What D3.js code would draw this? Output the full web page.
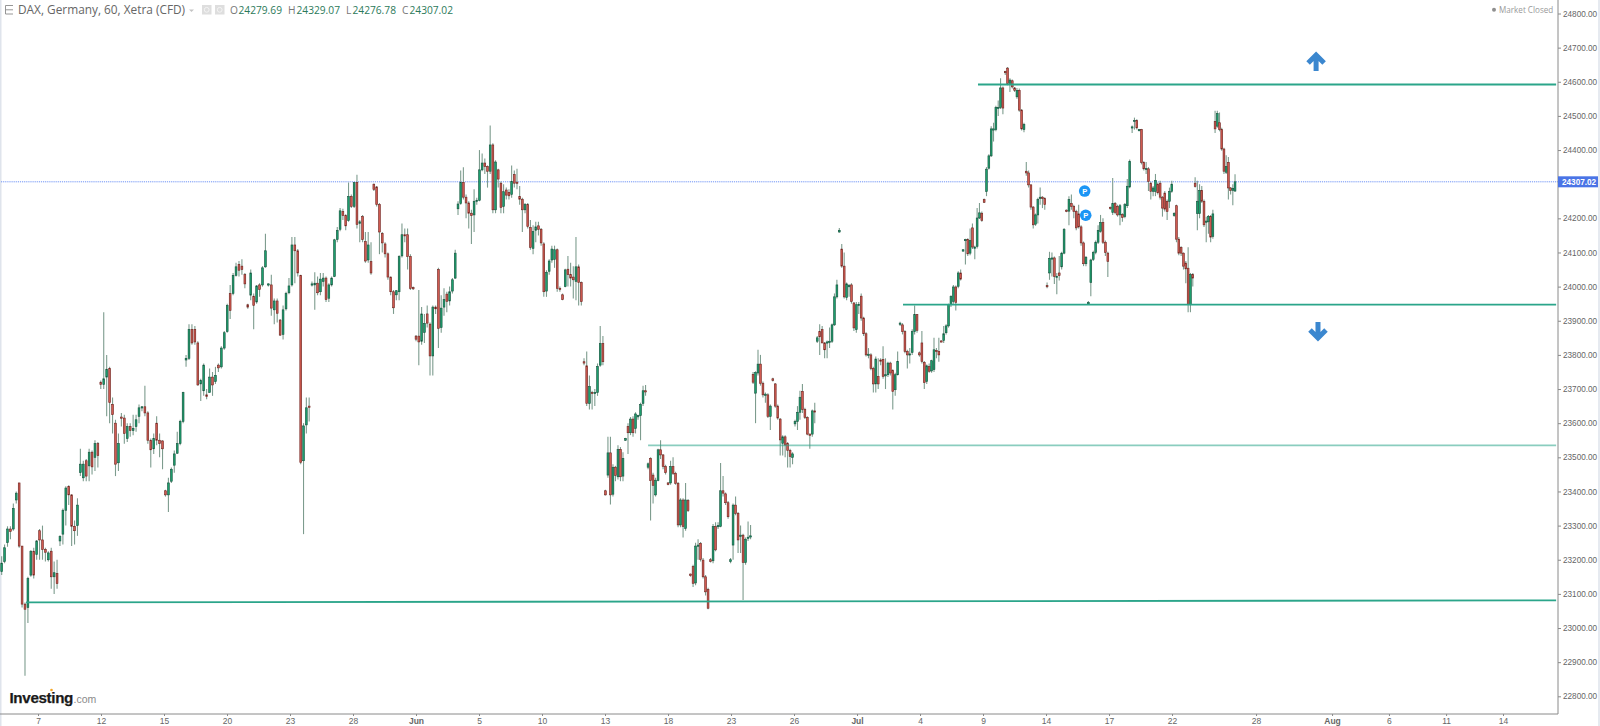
<!DOCTYPE html>
<html>
<head>
<meta charset="utf-8">
<script src="https://cdn.jsdelivr.net/npm/d3@7"></script>
<style>
  html, body { margin: 0; padding: 0; background: #fff; }
  svg { display: block; }
  .axis text { font-family: "Liberation Sans", Arial, sans-serif; fill: #666; }
  .axis path, .axis line { stroke: #8a8a8a; }
</style>
</head>
<body>
<svg id="chart" width="1600" height="726"></svg>
<script>
// hourly candles, left to right
const opens = [
  23165,23195,23250,23290,23290,23375,23425,23240,23070,23060,
  23155,23225,23215,23285,23258,23230,23200,23225,23150,23160,
  23255,23275,23345,23415,23390,23298,23300,23455,23440,23490,
  23475,23515,23500,23540,23720,23713,23735,23760,23655,23600,
  23484,23618,23615,23555,23590,23578,23590,23620,23645,23648,
  23630,23550,23525,23600,23550,23548,23402,23390,23430,23477,
  23512,23540,23605,23785,23790,23875,23875,23835,23715,23695,
  23683,23690,23735,23722,23770,23765,23820,23868,23980,23980,
  24033,24065,24060,24035,23947,23975,23972,23955,24005,24005,
  24058,24005,24005,23932,23958,23902,23860,23935,23982,24005,
  24122,24105,24033,23490,23595,23650,24005,24005,24010,23985,
  24015,24025,23966,24005,24030,24138,24168,24220,24208,24194,
  24264,24235,24305,24185,24205,24132,24078,24073,24300,24292,
  24240,24156,24125,24096,24028,23985,23976,23985,24090,24152,
  24152,24088,23997,23855,23855,23840,23866,23920,23890,23797,
  23940,24050,23880,23940,23978,23958,23987,24025,24228,24243,
  24305,24262,24245,24215,24210,24250,24253,24342,24362,24352,
  24338,24415,24225,24342,24303,24235,24283,24276,24270,24328,
  24306,24264,24256,24225,24240,24173,24112,24165,24178,24168,
  24125,23987,24045,24078,24080,24108,23995,23976,24000,24051,
  24035,24028,24015,24058,24012,23780,23768,23658,23690,23688,
  23690,23770,23833,23402,23448,23513,23392,23471,23443,23523,
  23445,23550,23590,23572,23612,23585,23622,23622,23658,23695,
  23471,23497,23448,23390,23432,23522,23507,23473,23425,23425,
  23473,23453,23424,23302,23375,23292,23373,23158,23180,23132,
  23240,23248,23199,23150,23113,23200,23197,23297,23297,23298,
  23402,23393,23367,23195,23243,23360,23336,23270,23272,23192,
  23264,23267,23743,23688,23747,23773,23717,23683,23683,23620,
  23730,23715,23650,23612,23541,23560,23540,23520,23500,23598,
  23605,23632,23693,23640,23617,23568,23568,23636,23840,23868,
  23874,23835,23838,23838,23840,23888,23970,24160,24110,24060,
  23968,24003,24005,23952,23874,23947,23972,23908,23862,23800,
  23800,23760,23715,23737,23785,23787,23740,23742,23776,23754,
  23698,23742,23890,23888,23868,23810,23803,23807,23868,23918,
  23806,23835,23778,23722,23766,23753,23757,23813,23810,23841,
  23842,23865,23885,23947,23957,23999,24001,24040,24104,24135,
  24138,24098,24172,24112,24118,24201,24215,24255,24279,24347,
  24383,24460,24460,24523,24525,24582,24630,24640,24595,24603,
  24582,24556,24575,24517,24460,24338,24333,24298,24233,24183,
  24210,24258,24262,24258,24003,24040,24083,24084,24030,24040,
  24058,24098,24224,24221,24243,24235,24220,24213,24175,24128,
  24067,23950,24012,24080,24100,24130,24162,24188,24130,24098,
  24232,24217,24243,24235,24210,24211,24205,24237,24292,24465,
  24485,24487,24460,24460,24364,24345,24345,24303,24279,24279,
  24300,24303,24262,24274,24250,24250,24279,24208,24237,24139,
  24115,24098,24069,24054,23947,24035,24303,24214,24214,24282,
  24250,24190,24190,24206,24147,24484,24470,24480,24460,24403,
  24335,24364,24289,24282,24280
];
const highs = [
  23210,23245,23298,23298,23365,23400,23425,23240,23075,23150,
  23228,23235,23258,23290,23300,23235,23225,23235,23195,23200,
  23272,23350,23415,23418,23392,23315,23380,23525,23490,23495,
  23525,23520,23550,23545,23725,23925,23800,23765,23675,23610,
  23570,23630,23625,23600,23600,23625,23625,23655,23650,23710,
  23635,23555,23570,23620,23570,23550,23405,23440,23470,23520,
  23575,23610,23692,23800,23890,23890,23885,23840,23730,23775,
  23700,23760,23750,23765,23775,23825,23870,23950,24005,24040,
  24070,24075,24080,24040,23950,24050,23980,24005,24010,24060,
  24155,24010,24035,23965,23965,23905,23945,23985,24025,24145,
  24145,24110,24035,23600,23675,23675,24015,24042,24030,24040,
  24040,24030,24010,24030,24140,24175,24230,24228,24212,24305,
  24270,24305,24328,24195,24210,24160,24160,24130,24302,24295,
  24245,24160,24130,24100,24030,23990,23990,24092,24185,24170,
  24170,24095,24000,23858,23990,23940,23920,23945,23895,23945,
  23945,24055,23975,23995,23985,24000,24025,24108,24250,24340,
  24350,24270,24250,24225,24285,24260,24400,24390,24375,24355,
  24472,24420,24370,24345,24308,24300,24290,24285,24355,24340,
  24345,24295,24260,24245,24245,24195,24180,24190,24190,24172,
  24130,24048,24080,24120,24120,24112,24000,23980,24052,24090,
  24070,24060,24145,24065,24015,23790,23810,23740,23695,23700,
  23775,23885,23855,23405,23560,23560,23480,23475,23535,23530,
  23515,23557,23600,23618,23620,23632,23625,23660,23710,23712,
  23485,23500,23455,23440,23525,23550,23510,23478,23428,23490,
  23500,23458,23428,23380,23380,23425,23378,23160,23185,23250,
  23260,23252,23205,23155,23118,23205,23305,23310,23310,23483,
  23445,23397,23372,23205,23365,23385,23340,23300,23276,23265,
  23312,23302,23750,23752,23815,23800,23722,23690,23688,23655,
  23733,23718,23655,23615,23565,23565,23545,23525,23515,23610,
  23650,23695,23715,23645,23620,23570,23640,23660,23855,23890,
  23885,23838,23842,23880,23892,23980,24020,24172,24125,24100,
  24012,24008,24010,23955,23955,23955,23980,23912,23866,23820,
  23805,23765,23795,23790,23790,23825,23790,23780,23780,23758,
  23748,23810,23897,23893,23872,23815,23820,23875,23945,23920,
  23810,23870,23782,23772,23775,23786,23850,23820,23850,23843,
  23885,23890,23950,23975,24005,24003,24045,24050,24110,24140,
  24142,24170,24185,24120,24230,24245,24220,24258,24350,24388,
  24470,24480,24530,24545,24610,24586,24632,24643,24610,24607,
  24585,24582,24580,24520,24480,24365,24340,24300,24236,24214,
  24260,24290,24265,24262,24012,24102,24100,24088,24040,24090,
  24102,24172,24226,24265,24270,24240,24225,24240,24180,24132,
  24090,23958,24082,24105,24135,24180,24210,24200,24135,24102,
  24235,24318,24248,24240,24242,24215,24245,24315,24372,24472,
  24495,24490,24462,24462,24367,24365,24350,24307,24295,24330,
  24305,24310,24265,24280,24255,24290,24310,24218,24240,24145,
  24118,24100,24075,24115,24040,24040,24320,24310,24300,24295,
  24255,24205,24210,24210,24225,24515,24515,24510,24465,24407,
  24385,24380,24292,24300,24329
];
const lows = [
  23155,23190,23238,23260,23285,23365,23235,23060,22860,23015,
  23150,23145,23200,23200,23200,23195,23195,23115,23100,23115,
  23240,23245,23300,23360,23240,23245,23270,23445,23430,23430,
  23430,23450,23460,23470,23700,23700,23620,23600,23570,23445,
  23460,23590,23540,23545,23560,23565,23575,23600,23635,23620,
  23540,23470,23510,23535,23500,23465,23385,23340,23425,23455,
  23510,23535,23600,23765,23785,23830,23830,23710,23665,23680,
  23670,23690,23680,23715,23750,23760,23815,23865,23905,23975,
  24030,24030,24035,23995,23935,23960,23875,23950,23970,24000,
  24055,24000,23915,23890,23895,23855,23845,23930,23978,24000,
  24010,24030,23480,23275,23570,23605,24000,23932,23975,23975,
  24000,23955,23955,24000,24028,24130,24162,24195,24165,24190,
  24230,24230,24170,24130,24130,24070,24070,24035,24280,24235,
  24095,24100,24085,24020,23975,23920,23960,23960,24085,24130,
  24050,23990,23990,23840,23770,23830,23835,23880,23740,23740,
  23920,23820,23865,23915,23925,23945,23980,24022,24210,24240,
  24255,24200,24170,24125,24160,24240,24250,24338,24330,24290,
  24330,24215,24215,24290,24215,24215,24255,24255,24260,24290,
  24285,24240,24160,24215,24170,24108,24095,24130,24150,24120,
  23970,23970,24035,24070,24055,23985,23985,23960,23998,24000,
  24000,23965,23960,23945,23945,23770,23650,23640,23640,23650,
  23680,23765,23770,23388,23440,23362,23385,23430,23435,23430,
  23430,23548,23510,23565,23560,23570,23610,23550,23650,23680,
  23465,23315,23365,23385,23430,23495,23465,23450,23418,23420,
  23448,23420,23295,23295,23265,23285,23340,23150,23120,23125,
  23200,23195,23145,23095,23055,23192,23190,23225,23290,23295,
  23385,23360,23320,23190,23200,23330,23220,23220,23082,23185,
  23255,23260,23715,23600,23740,23710,23675,23660,23615,23580,
  23722,23645,23610,23505,23505,23500,23470,23470,23480,23590,
  23580,23610,23630,23612,23565,23525,23560,23600,23835,23800,
  23835,23790,23790,23820,23835,23885,23965,24158,24055,23965,
  23960,23970,23950,23870,23865,23920,23900,23855,23795,23790,
  23755,23690,23690,23700,23770,23730,23700,23735,23740,23640,
  23680,23740,23885,23860,23805,23760,23775,23800,23860,23865,
  23795,23775,23700,23715,23748,23748,23750,23790,23780,23837,
  23835,23860,23880,23940,23950,23930,23995,24018,24102,24065,
  24090,24092,24110,24080,24112,24198,24190,24245,24265,24343,
  24380,24425,24455,24500,24520,24505,24620,24590,24570,24580,
  24570,24550,24512,24457,24452,24325,24290,24225,24170,24178,
  24185,24240,24230,24225,23995,24020,24030,24008,23978,24018,
  24050,24095,24218,24180,24225,24200,24165,24170,24120,24060,
  24060,23948,23972,24075,24095,24125,24158,24125,24090,24028,
  24225,24210,24212,24205,24180,24190,24200,24230,24288,24450,
  24460,24460,24455,24358,24340,24330,24280,24255,24265,24265,
  24270,24255,24205,24220,24195,24230,24275,24205,24130,24092,
  24090,24050,24010,23925,23925,24000,24290,24165,24200,24245,
  24175,24130,24155,24130,24140,24450,24465,24455,24398,24330,
  24330,24255,24270,24238,24277
];
const closes = [
  23190,23235,23290,23283,23350,23395,23240,23070,23055,23145,
  23225,23155,23255,23258,23230,23222,23220,23150,23162,23130,
  23268,23345,23410,23390,23298,23285,23360,23480,23480,23445,
  23515,23472,23540,23505,23713,23730,23758,23660,23625,23480,
  23540,23615,23570,23590,23578,23585,23610,23645,23648,23630,
  23550,23522,23555,23550,23540,23525,23390,23425,23465,23510,
  23540,23605,23690,23790,23875,23835,23838,23712,23725,23770,
  23678,23735,23712,23740,23762,23820,23865,23945,23930,24033,
  24058,24048,24050,24008,23940,24040,23945,24002,23992,24055,
  24105,24008,23937,23958,23922,23858,23932,23980,24002,24122,
  24105,24040,23485,23592,23645,23648,24008,24010,23982,24022,
  24025,23962,24005,24025,24137,24165,24222,24208,24178,24264,
  24235,24305,24182,24190,24138,24075,24122,24040,24285,24240,
  24160,24128,24096,24028,23985,23938,23988,24088,24152,24150,
  24088,23995,23995,23846,23838,23920,23892,23893,23797,23940,
  23935,23878,23937,23962,23957,23985,24020,24098,24242,24305,
  24262,24245,24215,24208,24250,24253,24342,24362,24352,24338,
  24415,24225,24365,24315,24232,24278,24268,24266,24308,24303,
  24305,24256,24225,24240,24176,24115,24161,24175,24168,24128,
  23985,24042,24075,24110,24108,23995,23992,23962,24049,24035,
  24025,24020,24058,24012,23956,23776,23658,23707,23688,23690,
  23766,23833,23780,23390,23513,23390,23471,23447,23523,23443,
  23497,23555,23572,23612,23572,23627,23622,23655,23695,23693,
  23481,23432,23418,23433,23522,23507,23473,23455,23420,23473,
  23453,23424,23302,23375,23297,23375,23344,23154,23131,23240,
  23243,23201,23150,23106,23058,23195,23297,23229,23300,23402,
  23395,23367,23326,23200,23360,23336,23258,23272,23192,23260,
  23266,23270,23720,23748,23773,23717,23683,23685,23620,23650,
  23725,23650,23615,23551,23560,23536,23520,23502,23510,23605,
  23632,23676,23640,23617,23568,23567,23636,23634,23850,23853,
  23835,23815,23838,23840,23888,23970,24005,24165,24060,23970,
  24008,24003,23957,23879,23947,23948,23908,23862,23800,23802,
  23760,23715,23788,23715,23783,23737,23742,23776,23747,23693,
  23742,23781,23893,23868,23810,23800,23803,23868,23918,23872,
  23800,23781,23719,23768,23752,23783,23815,23812,23800,23839,
  23862,23885,23947,23971,23999,23954,24040,24022,24108,24138,
  24096,24135,24116,24116,24201,24216,24194,24247,24344,24383,
  24462,24462,24525,24525,24582,24523,24628,24595,24605,24585,
  24575,24575,24517,24462,24475,24333,24298,24233,24181,24210,
  24255,24262,24258,24240,24001,24083,24084,24030,24030,24032,
  24098,24167,24221,24255,24235,24220,24172,24175,24128,24067,
  24086,23953,24078,24100,24130,24165,24188,24130,24100,24074,
  24230,24243,24217,24210,24237,24203,24240,24294,24367,24468,
  24487,24465,24460,24364,24345,24346,24308,24279,24289,24311,
  24275,24262,24230,24227,24220,24279,24300,24214,24139,24098,
  24098,24060,24052,23947,24035,24025,24293,24250,24282,24250,
  24181,24192,24206,24145,24213,24462,24507,24460,24403,24338,
  24352,24289,24282,24288,24307
];

// which trading day (0 = the "7" tick) a few of the bars fall on
const anchorBars = [0, 34, 102, 143, 158, 205, 212, 230, 272, 304, 332, 358, 384, 394, 429, 456, 474];
const anchorDays = [-1.73, 2.99, 12.51, 18.0, 20.0, 26.0, 26.9, 29.05, 34.05, 37.81, 41.05, 44.05, 46.95, 48.05, 52.1, 55.1, 57.0];

const tickDays = [0, 3, 6, 9, 12, 15, 18, 21, 24, 27, 30, 33, 36, 39, 42, 45, 48, 51, 54, 58, 61.62, 64.33, 67.05, 69.76];
const tickLabels = ["7", "12", "15", "20", "23", "28", "Jun", "5", "10", "13", "18", "23", "26", "Jul", "4", "9", "14", "17", "22", "28", "Aug", "6", "11", "14"];
const boldLabels = ["Jun", "Jul", "Aug"];

const priceTicks = d3.range(22800, 24801, 100);
const lastPrice = 24307.02;

// the drawn support and resistance levels
const levelStartDays = [44.76, 41.19, 29.05, -0.57];
const levelEndDays = [72.29, 72.29, 72.29, 72.29];
const levelStartPrices = [24592, 23947, 23535, 23075];
const levelEndPrices = [24592, 23947, 23535, 23081];
const levelOpacity = [1, 1, 0.55, 1];

const ohlcNames = ["O", "H", "L", "C"];
const ohlcValues = ["24279.69", "24329.07", "24276.78", "24307.02"];
const ohlcNameX = [230, 288, 346, 402];
const ohlcValueX = [238.5, 296.5, 352.5, 409.5];

var plotRight = 1558;
var plotBottom = 714;

var svg = d3.select("#chart");

var x = d3.scaleLinear().domain([0, 69.76]).range([38, 1503]);
var y = d3.scaleLinear().domain([22800, 24800]).range([696.3, 13.5]);
var barDay = d3.scaleLinear().domain(anchorBars).range(anchorDays);

// window edges
svg.append("rect").attr("x", 0).attr("y", 0).attr("width", 1.5).attr("height", 726).attr("fill", "#dfe4ec");
svg.append("rect").attr("x", 1598).attr("y", 0).attr("width", 2).attr("height", 726).attr("fill", "#e6eaf0");

// last price line, behind everything
svg.append("line")
  .attr("x1", 1).attr("x2", plotRight)
  .attr("y1", y(lastPrice)).attr("y2", y(lastPrice))
  .attr("stroke", "#6f93f5")
  .attr("stroke-width", 1)
  .attr("stroke-dasharray", "1.2 0.9");

// candles
var marks = svg.append("g").style("filter", "blur(0.4px)");
var candle = marks.selectAll("g")
  .data(d3.range(closes.length))
  .enter().append("g");

candle.append("line")
  .attr("x1", i => x(barDay(i)))
  .attr("x2", i => x(barDay(i)))
  .attr("y1", i => y(highs[i]))
  .attr("y2", i => y(lows[i]))
  .attr("stroke", "#7d9c8e")
  .attr("stroke-width", 1.1);

candle.append("rect")
  .attr("x", i => x(barDay(i)) - 0.9)
  .attr("width", 1.8)
  .attr("y", i => y(Math.max(opens[i], closes[i])))
  .attr("height", i => Math.max(1.2, Math.abs(y(opens[i]) - y(closes[i]))))
  .attr("fill", i => closes[i] >= opens[i] ? "#1c9e6d" : "#d05a50")
  .attr("stroke", i => closes[i] >= opens[i] ? "#17533e" : "#6e2420")
  .attr("stroke-width", 0.6);

// levels
d3.range(levelStartDays.length).forEach(function(i) {
  svg.append("line")
    .attr("x1", x(levelStartDays[i])).attr("x2", x(levelEndDays[i]))
    .attr("y1", y(levelStartPrices[i])).attr("y2", y(levelEndPrices[i]))
    .attr("stroke", "#2ba58a")
    .attr("stroke-width", 1.8)
    .attr("opacity", levelOpacity[i]);
});

// axes
var yAxis = svg.append("g")
  .attr("class", "axis")
  .attr("transform", "translate(" + plotRight + ",0)")
  .call(d3.axisRight(y).tickValues(priceTicks).tickSize(3).tickPadding(2).tickFormat(d3.format(".2f")));
yAxis.select(".domain").attr("d", "M0,0V" + plotBottom);
yAxis.selectAll("text").style("font-size", "8.2px");

var xAxis = svg.append("g")
  .attr("class", "axis")
  .attr("transform", "translate(0," + plotBottom + ")")
  .call(d3.axisBottom(x).tickValues(tickDays).tickSize(2).tickPadding(2).tickFormat((d, i) => tickLabels[i]));
xAxis.select(".domain").attr("d", "M0,0H" + plotRight);
xAxis.selectAll("text")
  .style("font-size", "8.5px")
  .style("font-weight", (d, i) => boldLabels.includes(tickLabels[i]) ? "bold" : "normal");

// last price tag
svg.append("rect")
  .attr("x", plotRight).attr("y", y(lastPrice) - 5.5)
  .attr("width", 40).attr("height", 11)
  .attr("fill", "#4a74e6");
svg.append("text")
  .attr("x", plotRight + 4).attr("y", y(lastPrice) + 3)
  .attr("font-family", "Liberation Sans, Arial, sans-serif")
  .attr("font-size", 8.2)
  .attr("font-weight", "bold")
  .attr("fill", "#fff")
  .text(lastPrice.toFixed(2));

// header
var header = svg.append("g").attr("font-family", "Open Sans, sans-serif");
header.append("path")
  .attr("d", "M5.5,5.5V14M5.5,5.5H13M5.5,9.8H13M5.5,14H13")
  .attr("fill", "none").attr("stroke", "#8a8a8a").attr("stroke-width", 0.9);
header.append("text")
  .attr("x", 18).attr("y", 14)
  .attr("font-size", 11.85).attr("fill", "#666")
  .text("DAX, Germany, 60, Xetra (CFD)");
header.append("path").attr("d", "M189,9.5h5l-2.5,2.5z").attr("fill", "#c4c4c4");
[202, 215].forEach(function(px) {
  header.append("rect").attr("x", px).attr("y", 5).attr("width", 9.5).attr("height", 9.5).attr("fill", "#dedede");
  header.append("circle").attr("cx", px + 4.7).attr("cy", 9.8).attr("r", 2.4)
    .attr("fill", "none").attr("stroke", "#f4f4f4").attr("stroke-width", 1);
});
ohlcNames.forEach(function(name, i) {
  header.append("text").attr("x", ohlcNameX[i]).attr("y", 14)
    .attr("font-size", 10.2).attr("fill", "#777").text(name);
  header.append("text").attr("x", ohlcValueX[i]).attr("y", 14)
    .attr("font-size", 10.2).attr("fill", "#2c7a5a").text(ohlcValues[i]);
});

// market status
svg.append("circle").attr("cx", 1494).attr("cy", 9.8).attr("r", 2).attr("fill", "#8f8f8f");
svg.append("text")
  .attr("x", 1499).attr("y", 13)
  .attr("font-family", "Open Sans, sans-serif")
  .attr("font-size", 8.1).attr("fill", "#9a9a9a")
  .text("Market Closed");

// arrows
var arrowUp = "M0,9V-6M-8,1L0,-7L8,1";
var arrowDown = "M0,-9V6M-8,-1L0,7L8,-1";
svg.append("path").attr("d", arrowUp)
  .attr("transform", "translate(" + x(60.86) + "," + y(24658) + ")")
  .attr("fill", "none").attr("stroke", "#3b87cf").attr("stroke-width", 5);
svg.append("path").attr("d", arrowDown)
  .attr("transform", "translate(" + x(60.95) + "," + y(23870) + ")")
  .attr("fill", "none").attr("stroke", "#3b87cf").attr("stroke-width", 5);

// the two P event flags
[[49.84, 24280], [49.89, 24209]].forEach(function(p) {
  svg.append("circle").attr("cx", x(p[0])).attr("cy", y(p[1])).attr("r", 5.8).attr("fill", "#1b95f5");
  svg.append("text").attr("x", x(p[0])).attr("y", y(p[1]) + 2.7)
    .attr("text-anchor", "middle")
    .attr("font-family", "Liberation Sans, sans-serif")
    .attr("font-size", 7.5).attr("font-weight", "bold").attr("fill", "#fff")
    .text("P");
});

// logo
var logo = svg.append("g").attr("font-family", "Liberation Sans, Arial, sans-serif");
logo.append("text")
  .attr("x", 9.5).attr("y", 702.5)
  .attr("font-size", 15.2).attr("font-weight", "bold").attr("fill", "#1a1a1a")
  .attr("stroke", "#1a1a1a").attr("stroke-width", 0.25)
  .attr("letter-spacing", -0.35)
  .text("Investing");
logo.append("text")
  .attr("x", 73.5).attr("y", 702.5)
  .attr("font-size", 10.5).attr("fill", "#8a8a8a")
  .text(".com");
logo.append("circle").attr("cx", 51.5).attr("cy", 690).attr("r", 1.3).attr("fill", "#f5a623");
</script>
</body>
</html>
